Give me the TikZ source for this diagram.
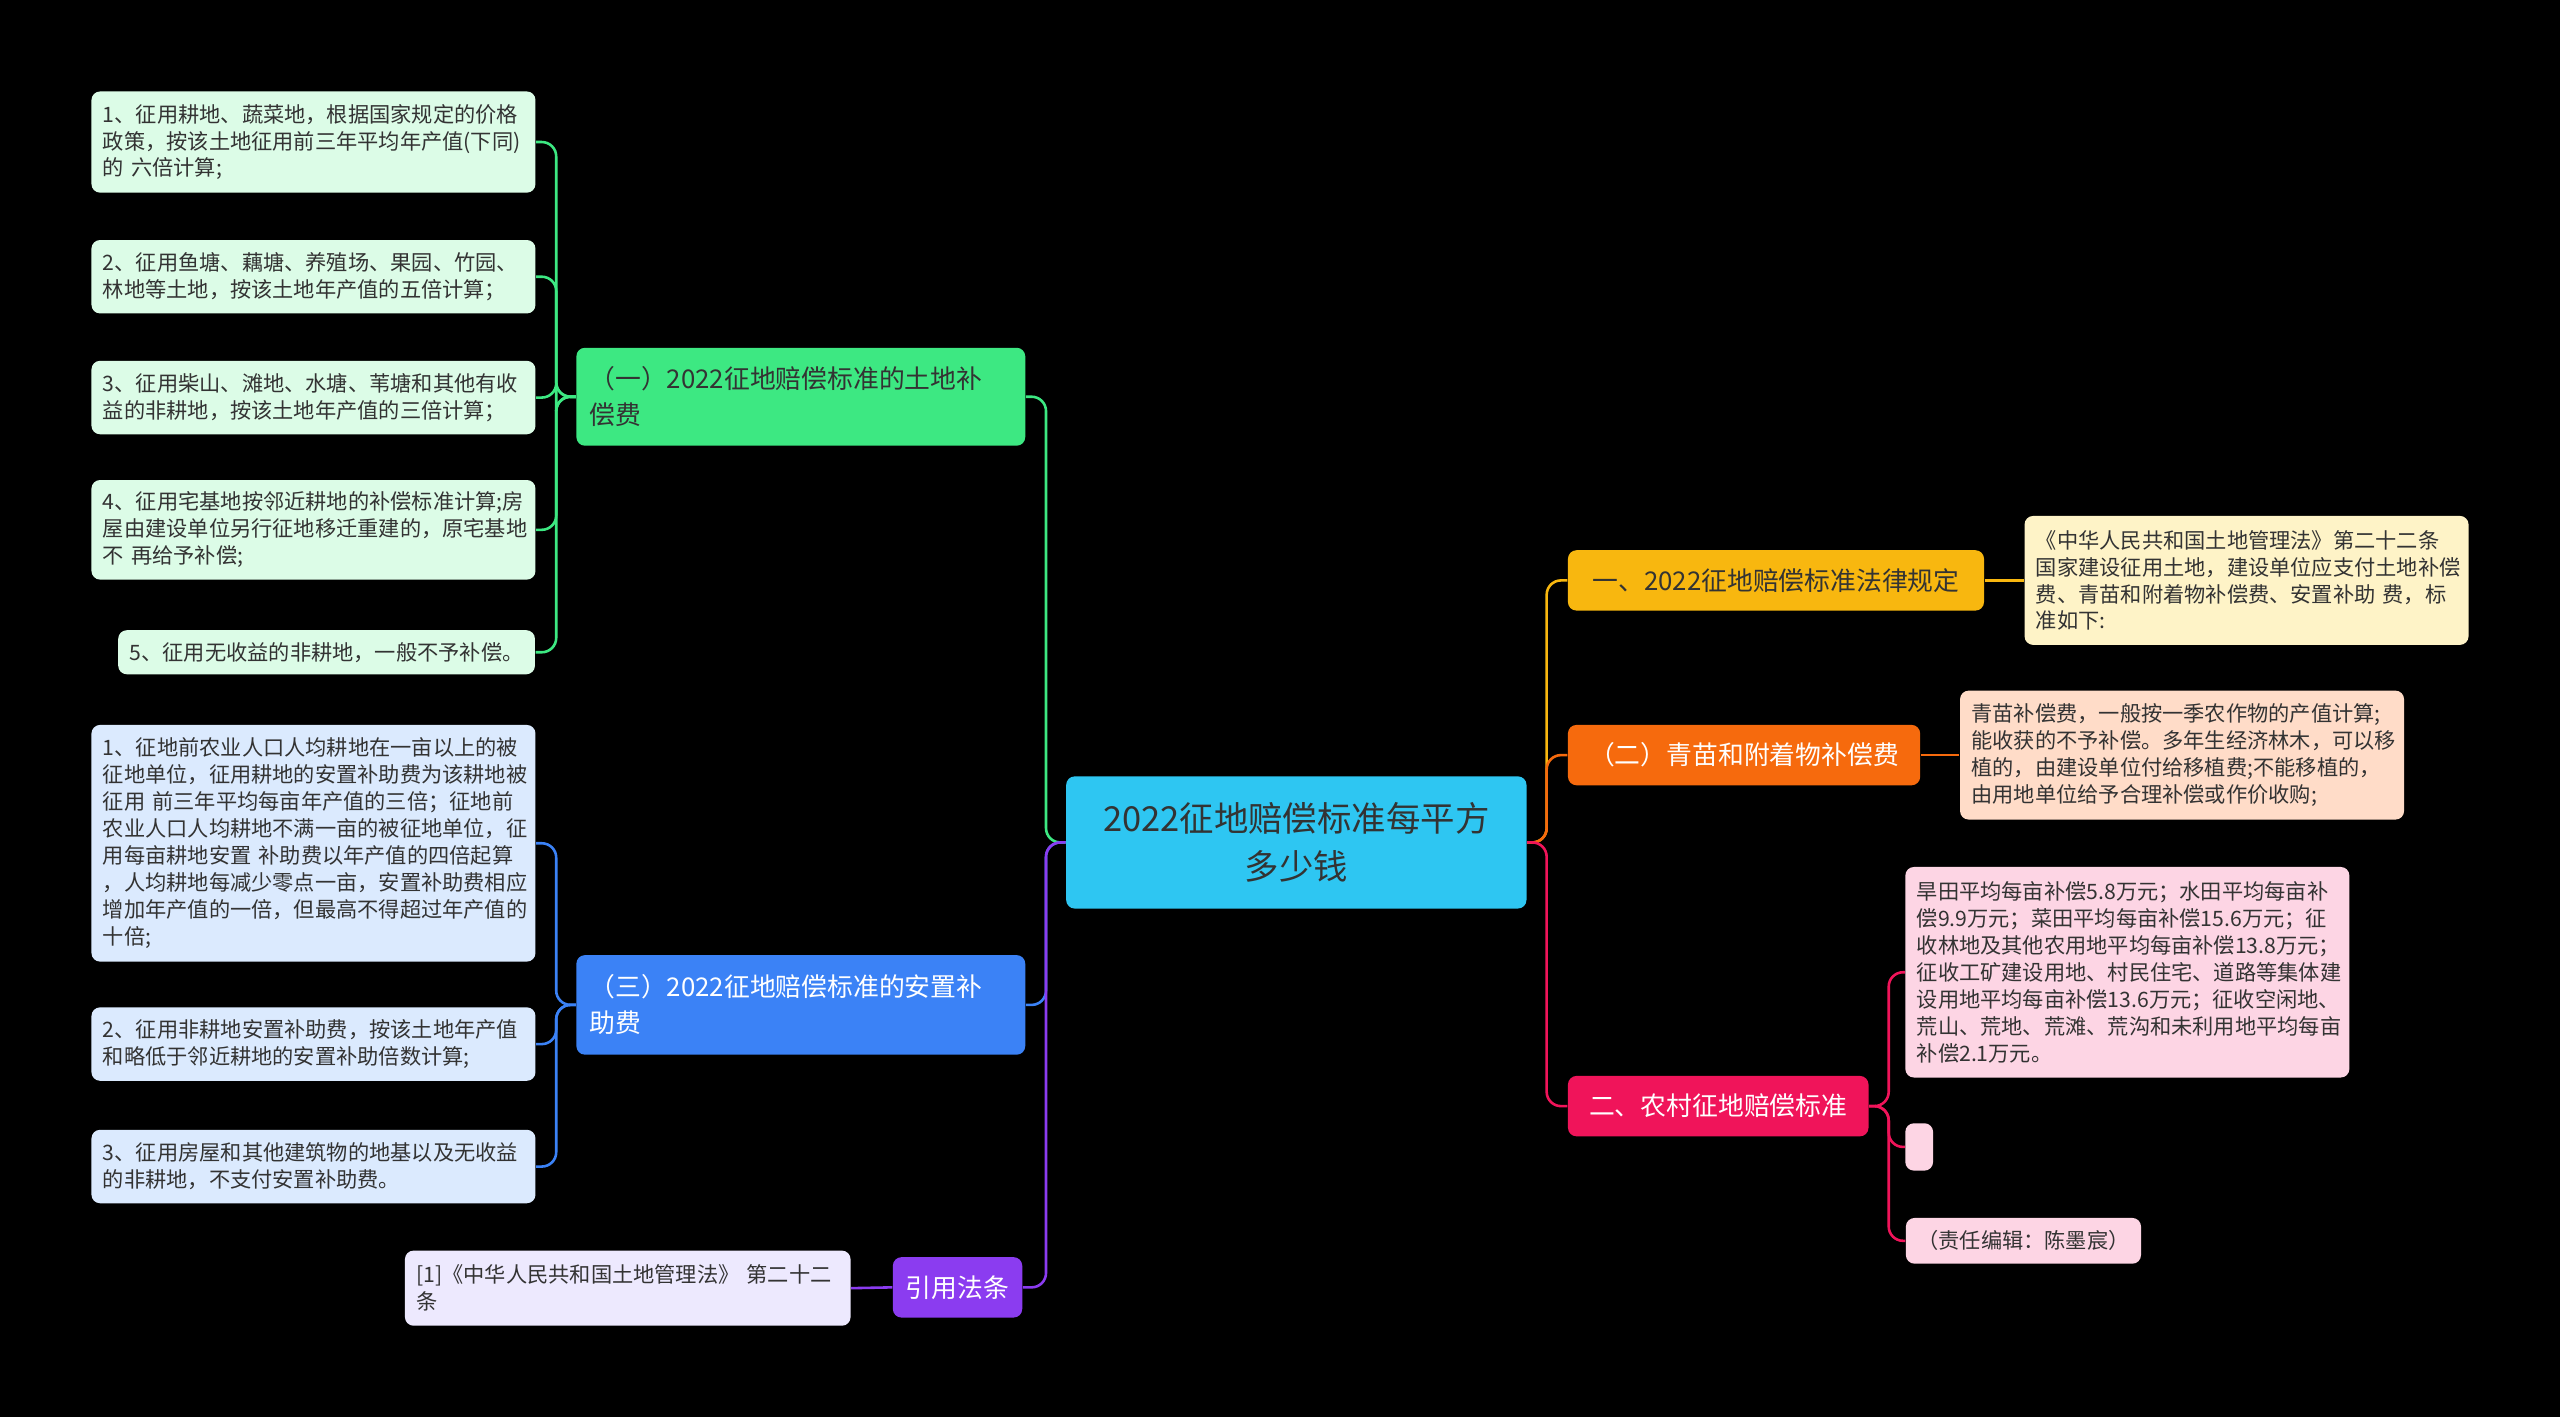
\documentclass[tikz,border=0pt]{standalone}
\usepackage{fontspec}
\setmainfont{Noto Sans CJK SC}
\definecolor{rootc}{HTML}{2EC6F2}
\definecolor{grn}{HTML}{3DE882}
\definecolor{blu}{HTML}{3B82F6}
\definecolor{pur}{HTML}{8B3CF0}
\definecolor{yel}{HTML}{F8B70F}
\definecolor{org}{HTML}{F66A0D}
\definecolor{rosec}{HTML}{F0145A}
\definecolor{grnl}{HTML}{DCFCE7}
\definecolor{blul}{HTML}{DBEAFE}
\definecolor{purl}{HTML}{EDE9FE}
\definecolor{yell}{HTML}{FEF3C7}
\definecolor{orgl}{HTML}{FFDCC8}
\definecolor{rosel}{HTML}{FDD5E4}
\definecolor{ink}{HTML}{333333}
\tikzset{
  root/.style={rectangle, rounded corners=3pt, fill=rootc, text=ink, align=center,
    minimum width=5.64cm, minimum height=1.62cm, font=\fontsize{12}{17}\selectfont},
  topic/.style={rectangle, rounded corners=3pt, fill=#1, align=left, inner xsep=0.16cm,
    font=\fontsize{9}{12.5}\selectfont},
  leaf/.style={rectangle, rounded corners=3pt, fill=#1, text=ink, align=left, inner xsep=0.14cm,
    inner ysep=0.1cm, font=\fontsize{7.4}{9.4}\selectfont},
  link/.style={line width=0.9pt, rounded corners=5pt}
}
\begin{document}
\begin{tikzpicture}[x=0.02cm, y=-0.02cm]
\fill[black] (0,0) rectangle (1568,868);
\useasboundingbox (0,0) rectangle (1568,868);
% centre
\node[root] (root) at (794,516) {2022征地赔偿标准每平方\\多少钱};
% left side
\node[topic=grn, text=ink, minimum width=5.5cm, minimum height=1.2cm, text width=5.18cm] (land) at (490.5,243) {（一）2022征地赔偿标准的土地补\\偿费};
\node[topic=blu, text=white, minimum width=5.5cm, minimum height=1.22cm, text width=5.18cm] (place) at (490.5,615.5) {（三）2022征地赔偿标准的安置补\\助费};
\node[topic=pur, text=white, minimum height=0.74cm] (law) at (586.5,788.5) {引用法条};
\node[leaf=grnl, text width=5.16cm, minimum height=1.24cm] (a1) at (192,87) {1、征用耕地、蔬菜地，根据国家规定的价格\\政策，按该土地征用前三年平均年产值(下同)\\的 六倍计算;};
\node[leaf=grnl, text width=5.16cm, minimum height=0.9cm] (a2) at (192,169.5) {2、征用鱼塘、藕塘、养殖场、果园、竹园、\\林地等土地，按该土地年产值的五倍计算；};
\node[leaf=grnl, text width=5.16cm, minimum height=0.9cm] (a3) at (192,243.5) {3、征用柴山、滩地、水塘、苇塘和其他有收\\益的非耕地，按该土地年产值的三倍计算；};
\node[leaf=grnl, text width=5.16cm, minimum height=1.22cm] (a4) at (192,324.5) {4、征用宅基地按邻近耕地的补偿标准计算;房\\屋由建设单位另行征地移迁重建的，原宅基地\\不 再给予补偿;};
\node[leaf=grnl, minimum height=0.54cm, anchor=east] (a5) at (328,399.5) {5、征用无收益的非耕地，一般不予补偿。};
\node[leaf=blul, text width=5.16cm, minimum height=2.9cm] (b1) at (192,516.5) {1、征地前农业人口人均耕地在一亩以上的被\\征地单位，征用耕地的安置补助费为该耕地被\\征用 前三年平均每亩年产值的三倍；征地前\\农业人口人均耕地不满一亩的被征地单位，征\\用每亩耕地安置 补助费以年产值的四倍起算\\，人均耕地每减少零点一亩，安置补助费相应\\增加年产值的一倍，但最高不得超过年产值的\\十倍;};
\node[leaf=blul, text width=5.16cm, minimum height=0.9cm] (b2) at (192,639.5) {2、征用非耕地安置补助费，按该土地年产值\\和略低于邻近耕地的安置补助倍数计算;};
\node[leaf=blul, text width=5.16cm, minimum height=0.9cm] (b3) at (192,714.5) {3、征用房屋和其他建筑物的地基以及无收益\\的非耕地，不支付安置补助费。};
\node[leaf=purl, text width=5.18cm, minimum height=0.92cm] (c1) at (384.5,789) {[1]《中华人民共和国土地管理法》 第二十二\\条};
% right side
\node[topic=yel, text=ink, minimum height=0.74cm, inner xsep=0.3cm, anchor=west] (rule) at (960,355.5) {一、2022征地赔偿标准法律规定};
\node[topic=org, text=white, minimum height=0.74cm, inner xsep=0.26cm, anchor=west] (crop) at (960,462.5) {（二）青苗和附着物补偿费};
\node[topic=rosec, text=white, minimum height=0.74cm, inner xsep=0.26cm, anchor=west] (rural) at (960,677.5) {二、农村征地赔偿标准};
\node[leaf=yell, text width=5.16cm, minimum height=1.58cm] (d1) at (1376,355.5) {《中华人民共和国土地管理法》第二十二条\\国家建设征用土地，建设单位应支付土地补偿\\费、青苗和附着物补偿费、安置补助 费，标\\准如下:};
\node[leaf=orgl, text width=5.16cm, minimum height=1.58cm] (e1) at (1336.5,462.5) {青苗补偿费，一般按一季农作物的产值计算;\\能收获的不予补偿。多年生经济林木，可以移\\ 植的，由建设单位付给移植费;不能移植的，\\由用地单位给予合理补偿或作价收购;};
\node[leaf=rosel, text width=5.16cm, minimum height=2.58cm] (f1) at (1303,595.5) {旱田平均每亩补偿5.8万元；水田平均每亩补\\偿9.9万元；菜田平均每亩补偿15.6万元；征\\收林地及其他农用地平均每亩补偿13.8万元；\\征收工矿建设用地、村民住宅、道路等集体建\\设用地平均每亩补偿13.6万元；征收空闲地、\\荒山、荒地、荒滩、荒沟和未利用地平均每亩\\补偿2.1万元。};
\node[leaf=rosel, minimum width=0.34cm, minimum height=0.58cm, inner sep=0pt] (f2) at (1175.5,702.5) {};
\node[leaf=rosel, minimum height=0.56cm, anchor=west] (f3) at (1167,760) {（责任编辑：陈墨宸）};
% connectors
\draw[link, grn] (root.west) -- ++(-12,0) |- (land.east);
\draw[link, blu] (root.west) -- ++(-12,0) |- (place.east);
\draw[link, pur] (root.west) -- ++(-12,0) |- (law.east);
\foreach \n in {a1,a2,a3,a4,a5}
  \draw[link, grn] (land.west) -- ++(-12,0) |- (\n.east);
\foreach \n in {b1,b2,b3}
  \draw[link, blu] (place.west) -- ++(-12,0) |- (\n.east);
\draw[link, pur] (law.west) -- (c1.east);
\draw[link, yel] (root.east) -- ++(12,0) |- (rule.west);
\draw[link, org] (root.east) -- ++(12,0) |- (crop.west);
\draw[link, rosec] (root.east) -- ++(12,0) |- (rural.west);
\draw[link, yel] (rule.east) -- (d1.west);
\draw[link, org] (crop.east) -- (e1.west);
\foreach \n in {f1,f2,f3}
  \draw[link, rosec] (rural.east) -- ++(12,0) |- (\n.west);
\end{tikzpicture}
\end{document}
